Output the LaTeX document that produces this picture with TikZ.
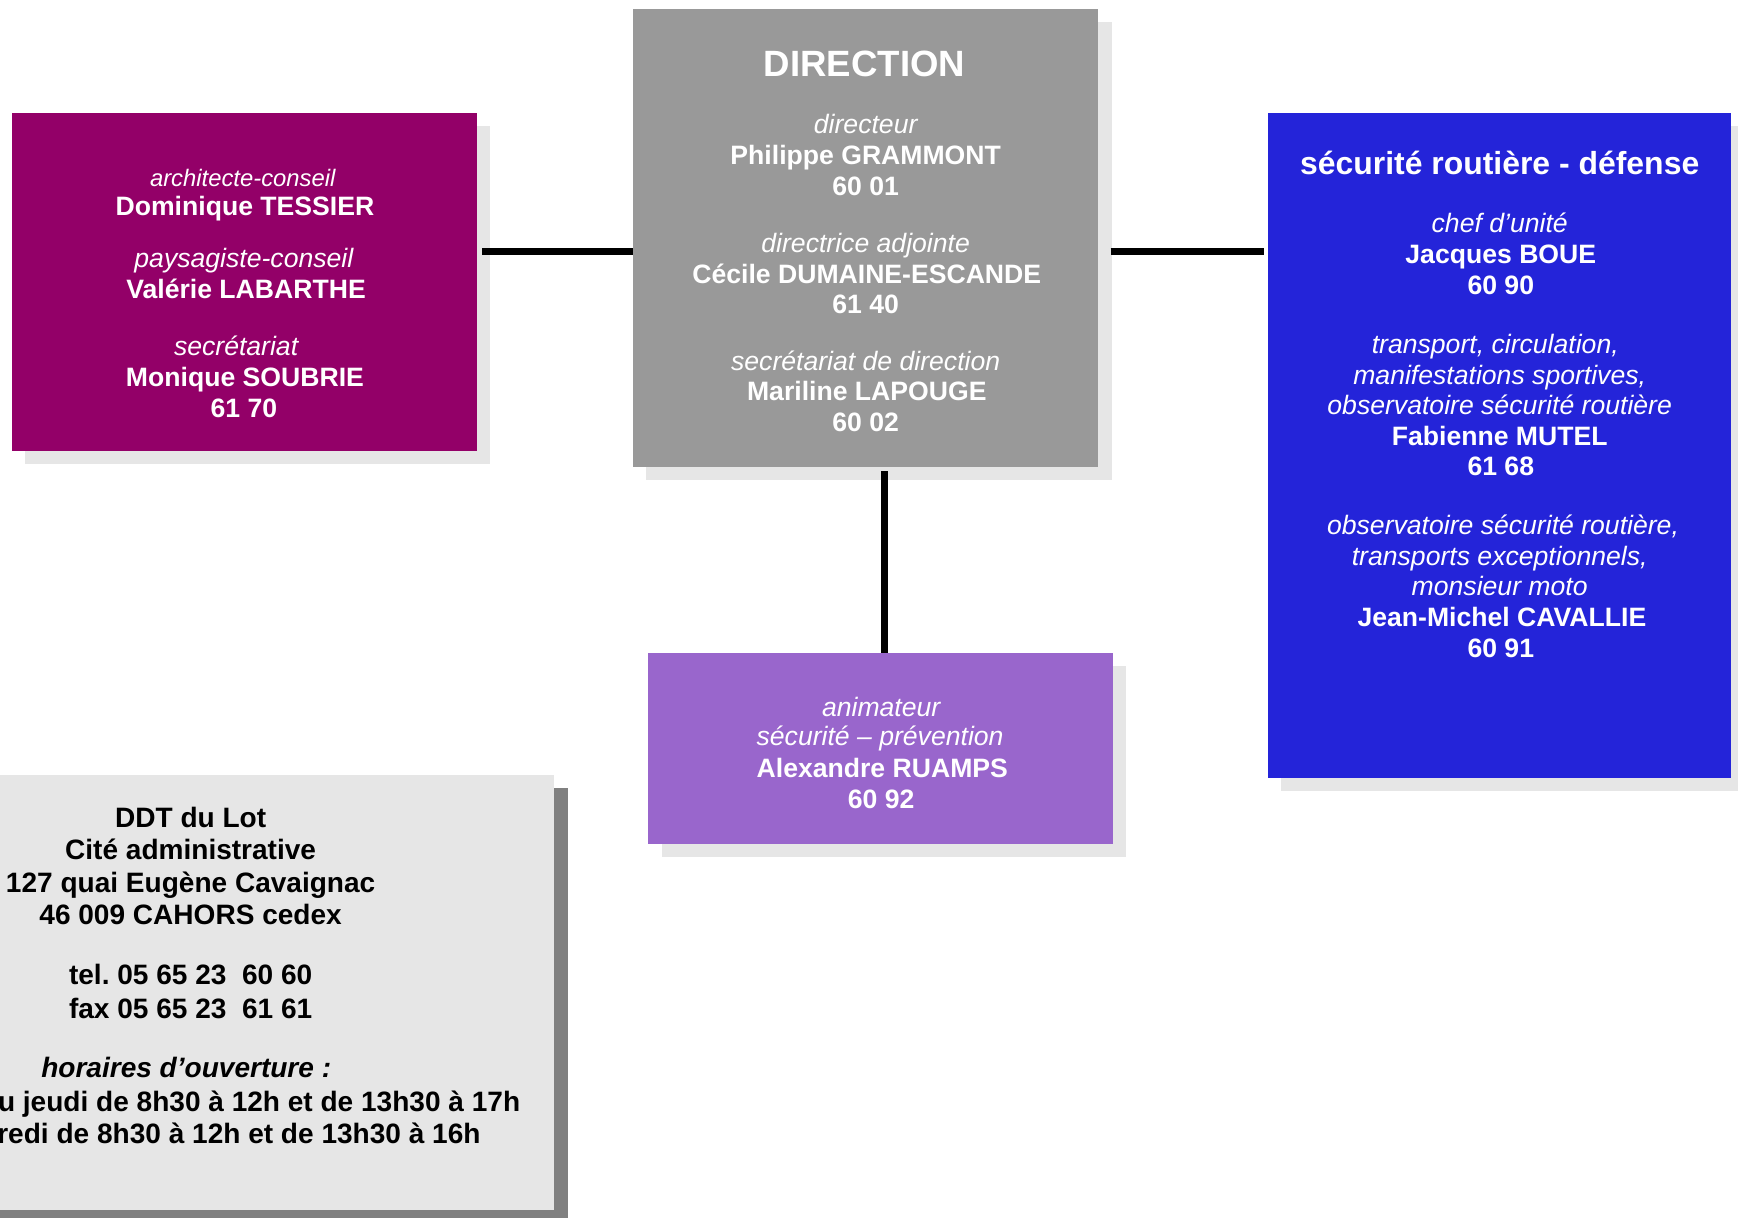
\documentclass[tikz,border=0pt]{standalone}
\usepackage{fontspec}
\setmainfont{Liberation Sans}
\usetikzlibrary{shadows}
\definecolor{magbox}{HTML}{930068}
\definecolor{dirbox}{HTML}{999999}
\definecolor{secbox}{HTML}{2424D9}
\definecolor{animbox}{HTML}{9966CC}
\definecolor{infobox}{HTML}{E6E6E6}
\definecolor{lightshade}{HTML}{E6E6E6}
\definecolor{darkshade}{HTML}{808080}
\frenchspacing
\begin{document}
\begin{tikzpicture}[x=0.5pt,y=-0.5pt,
  orgbox/.style={draw=none,inner sep=0pt,outer sep=0pt,anchor=north west,
    drop shadow={shadow xshift=6pt,shadow yshift=-6pt,fill=lightshade,opacity=1}},
  darkorgbox/.style={draw=none,inner sep=0pt,outer sep=0pt,anchor=north west,
    drop shadow={shadow xshift=6pt,shadow yshift=-6pt,fill=darkshade,opacity=1}},
  conn/.style={line width=3.2pt,draw=black},
  wtxt/.style={anchor=base,inner sep=0pt,text=white,font=\fontsize{12}{14}\selectfont},
  roletxt/.style={wtxt,font=\fontsize{12}{14}\selectfont\itshape},
  smallrole/.style={wtxt,font=\fontsize{10.75}{13}\selectfont\itshape},
  persontxt/.style={wtxt,font=\fontsize{12}{14}\selectfont\bfseries},
  dirtitle/.style={wtxt,font=\fontsize{16.5}{20}\selectfont\bfseries},
  sectitle/.style={wtxt,font=\fontsize{14.4}{17}\selectfont\bfseries},
  infotxt/.style={anchor=base,inner sep=0pt,text=black,font=\fontsize{12.65}{15}\selectfont\bfseries},
  infoit/.style={infotxt,font=\fontsize{12.65}{15}\selectfont\bfseries\itshape}]
\useasboundingbox (0,0) rectangle (1568,1098);
\clip (0,0) rectangle (1568,1098);

% boxes
\node[orgbox,fill=magbox,minimum width=209.5pt,minimum height=152.5pt] (mag) at (11,102) {};
\node[orgbox,fill=dirbox,minimum width=210pt,minimum height=206.5pt] (dir) at (571,8) {};
\node[orgbox,fill=secbox,minimum width=209pt,minimum height=300pt] (sec) at (1144,102) {};
\node[orgbox,fill=animbox,minimum width=209.5pt,minimum height=86pt] (anim) at (585,589) {};
\node[darkorgbox,fill=infobox,minimum width=260pt,minimum height=196.5pt] (info) at (-20,699) {};

% connectors
\coordinate (hl) at (0,227);
\coordinate (vl) at (798,0);
\draw[conn] ([xshift=2.5pt]mag.east |- hl) -- (dir.west |- hl);
\draw[conn] ([xshift=5.5pt]dir.east |- hl) -- ([xshift=-2pt]sec.west |- hl);
\draw[conn] ([yshift=-2pt]dir.south -| vl) -- (anim.north -| vl);

% magenta box text
\node[smallrole] (m1) at (219,168) {architecte-conseil};
\node[persontxt] (m2) at (221,194) {Dominique TESSIER};
\node[roletxt] (m3) at (220,241) {paysagiste-conseil};
\node[persontxt] (m4) at (222,269) {Valérie LABARTHE};
\node[roletxt] (m5) at (213,321) {secrétariat};
\node[persontxt] (m6) at (221,349) {Monique SOUBRIE};
\node[persontxt] (m7) at (220,377) {61 70};

% direction box text
\node[dirtitle] (d0) at (780,69) {DIRECTION};
\node[roletxt] (d1) at (781,120) {directeur};
\node[persontxt] (d2) at (781,148) {Philippe GRAMMONT};
\node[persontxt] (d3) at (781,176) {60 01};
\node[roletxt] (d4) at (781,228) {directrice adjointe};
\node[persontxt] (d5) at (782,256) {Cécile DUMAINE-ESCANDE};
\node[persontxt] (d6) at (781,283) {61 40};
\node[roletxt] (d7) at (781,334) {secrétariat de direction};
\node[persontxt] (d8) at (782,361) {Mariline LAPOUGE};
\node[persontxt] (d9) at (781,389) {60 02};

% securite routiere box text
\node[sectitle] (s0) at (1353,157) {sécurité routière - défense};
\node[roletxt] (s1) at (1353,210) {chef d’unité};
\node[persontxt] (s2) at (1354,238) {Jacques BOUE};
\node[persontxt] (s3) at (1354,266) {60 90};
\node[roletxt] (s4) at (1349,319) {transport, circulation,};
\node[roletxt] (s5) at (1353,347) {manifestations sportives,};
\node[roletxt] (s6) at (1353,374) {observatoire sécurité routière};
\node[persontxt] (s7) at (1353,402) {Fabienne MUTEL};
\node[persontxt] (s8) at (1354,429) {61 68};
\node[roletxt] (s9) at (1356,482) {observatoire sécurité routière,};
\node[roletxt] (s10) at (1353,510) {transports exceptionnels,};
\node[roletxt] (s11) at (1353,537) {monsieur moto};
\node[persontxt] (s12) at (1355,565) {Jean-Michel CAVALLIE};
\node[persontxt] (s13) at (1354,593) {60 91};

% animateur box text
\node[roletxt] (a1) at (795,646) {animateur};
\node[roletxt] (a2) at (794,673) {sécurité – prévention};
\node[persontxt] (a3) at (796,701) {Alexandre RUAMPS};
\node[persontxt] (a4) at (795,729) {60 92};

% info box text
\node[infotxt] (i1) at (172,746.5) {DDT du Lot};
\node[infotxt] (i2) at (172,775.5) {Cité administrative};
\node[infotxt] (i3) at (172,805.5) {127 quai Eugène Cavaignac};
\node[infotxt] (i4) at (172,834.5) {46 009 CAHORS cedex};
\node[infotxt] (i5) at (172,888.5) {tel. 05 65 23\ \ 60 60};
\node[infotxt] (i6) at (172,918.5) {fax 05 65 23\ \ 61 61};
\node[infoit] (i7) at (168,972.5) {horaires d’ouverture :};
\node[infotxt] (i8) at (174,1002.5) {du lundi au jeudi de 8h30 à 12h et de 13h30 à 17h};
\node[infotxt] (i9) at (172,1031.5) {le vendredi de 8h30 à 12h et de 13h30 à 16h};
\end{tikzpicture}
\end{document}
